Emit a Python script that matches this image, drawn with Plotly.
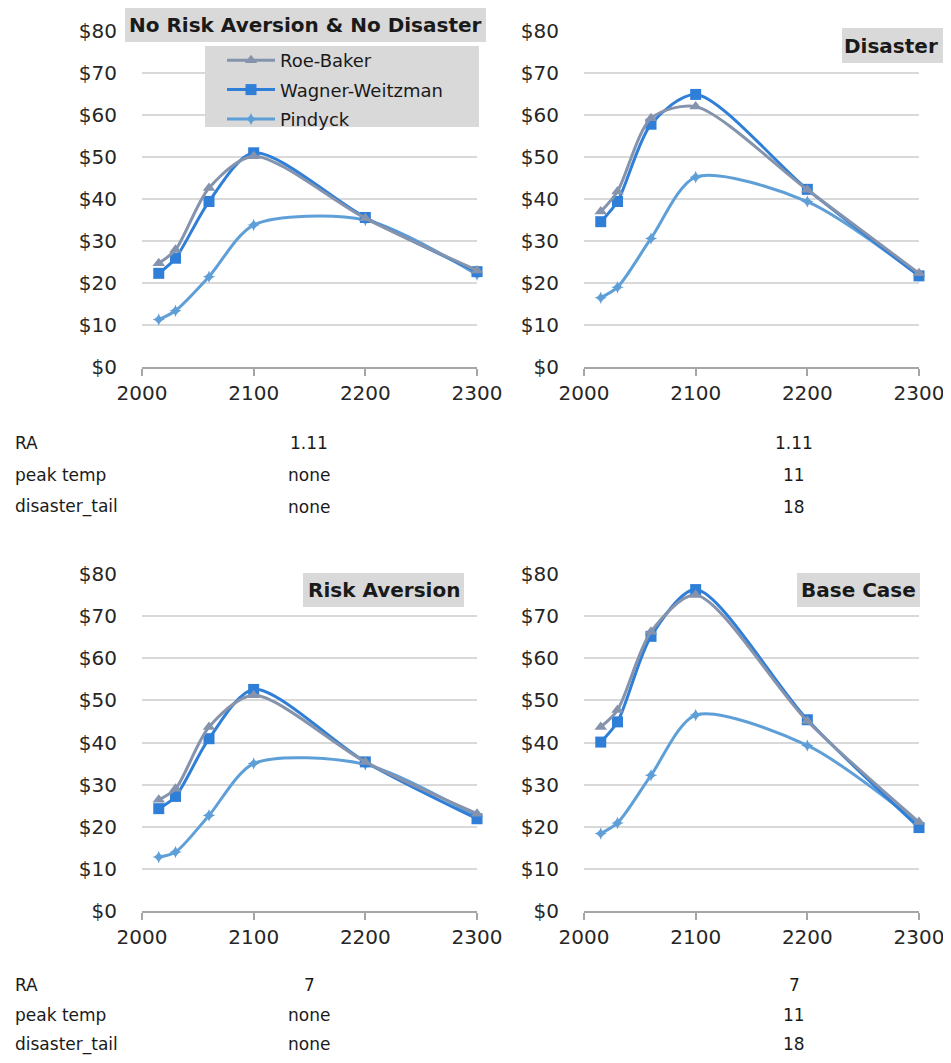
import plotly.graph_objects as go

# page is 951x1063; the figure sits 8px in from the top-left (default body margin)
OFF = 8
W, H = 951 - OFF, 1063 - 2 * OFF

years = [2015, 2030, 2060, 2100, 2200, 2300]
series_names = ["Roe-Baker", "Wagner-Weitzman", "Pindyck"]

# panel values
p1_rb = [24.7, 27.9, 42.6, 50.2, 35.4, 23.0]
p1_ww = [22.3, 25.9, 39.4, 51.0, 35.6, 22.7]
p1_pd = [11.3, 13.4, 21.5, 33.8, 35.0, 22.0]

p2_rb = [37.0, 41.8, 59.2, 62.0, 42.2, 22.3]
p2_ww = [34.6, 39.4, 57.8, 64.9, 42.3, 21.7]
p2_pd = [16.5, 19.0, 30.6, 45.2, 39.4, 21.7]

p3_rb = [26.4, 29.0, 43.7, 51.2, 35.4, 23.1]
p3_ww = [24.3, 27.2, 40.9, 52.6, 35.4, 21.9]
p3_pd = [12.8, 14.0, 22.7, 35.0, 34.8, 22.3]

p4_rb = [43.7, 47.7, 66.3, 75.0, 45.1, 21.1]
p4_ww = [40.1, 44.9, 65.2, 76.3, 45.4, 19.8]
p4_pd = [18.4, 20.9, 32.2, 46.5, 39.3, 20.7]

panel_titles = ["No Risk Aversion & No Disaster", "Disaster", "Risk Aversion", "Base Case"]

table_labels = ["RA", "peak temp", "disaster_tail"]
table_top_left = ["1.11", "none", "none"]
table_top_right = ["1.11", "11", "18"]
table_bot_left = ["7", "none", "none"]
table_bot_right = ["7", "11", "18"]

y_ticks = [0, 10, 20, 30, 40, 50, 60, 70, 80]
y_ticktext = ["$0", "$10", "$20", "$30", "$40", "$50", "$60", "$70", "$80"]
x_ticks = [2000, 2100, 2200, 2300]

colors = {"Roe-Baker": "#8593ad", "Wagner-Weitzman": "#2f7fd8", "Pindyck": "#5f9fd8"}
symbols = {"Roe-Baker": "triangle-up", "Wagner-Weitzman": "square", "Pindyck": "star-diamond"}
msizes = {"Roe-Baker": 11, "Wagner-Weitzman": 11, "Pindyck": 9}
ranks = {"Roe-Baker": 1, "Wagner-Weitzman": 2, "Pindyck": 3}

panels = [
    {"Roe-Baker": p1_rb, "Wagner-Weitzman": p1_ww, "Pindyck": p1_pd},
    {"Roe-Baker": p2_rb, "Wagner-Weitzman": p2_ww, "Pindyck": p2_pd},
    {"Roe-Baker": p3_rb, "Wagner-Weitzman": p3_ww, "Pindyck": p3_pd},
    {"Roe-Baker": p4_rb, "Wagner-Weitzman": p4_ww, "Pindyck": p4_pd},
]

# page-pixel layout of plot areas: (x0, x1, y_top, y_bottom)
areas = [(142, 477, 31, 367), (584, 919, 31, 367), (142, 477, 574, 911), (584, 919, 574, 911)]

def px(x):
    return (x - OFF) / W

def py(y):
    return 1 - (y - OFF) / H

FONT = "DejaVu Sans"
TXT = "#262626"

fig = go.Figure()
layout = {}
for i, (data, area) in enumerate(zip(panels, areas)):
    sfx = "" if i == 0 else str(i + 1)
    xa, ya = "x" + sfx, "y" + sfx
    for name in ["Pindyck", "Wagner-Weitzman", "Roe-Baker"]:
        fig.add_trace(go.Scatter(
            x=years, y=data[name], name=name, xaxis=xa, yaxis=ya,
            mode="lines+markers", line=dict(color=colors[name], width=3, shape="spline", smoothing=0.8),
            marker=dict(symbol=symbols[name], size=msizes[name], color=colors[name]),
            showlegend=(i == 0), legendrank=ranks[name], legendgroup=name, cliponaxis=False,
        ))
    x0, x1, yt, yb = area
    layout["xaxis" + sfx] = dict(
        domain=[px(x0), px(x1)], anchor=ya, range=[2000, 2300], tickvals=x_ticks,
        showgrid=False, zeroline=False, showline=True, linecolor="#a6a6a6", linewidth=1.5,
        ticks="outside", ticklen=7, tickcolor="#a6a6a6", tickwidth=1.5, automargin=False,
        tickfont=dict(family=FONT, size=20, color=TXT), ticklabelstandoff=0,
    )
    layout["yaxis" + sfx] = dict(
        domain=[py(yb), py(yt)], anchor=xa, range=[0, 80], tickvals=y_ticks, ticktext=y_ticktext,
        showgrid=True, gridcolor="#d9d9d9", gridwidth=1.5, zeroline=False, showline=False,
        ticks="", tickfont=dict(family=FONT, size=20, color=TXT), ticklabelstandoff=24, automargin=False,
    )

shapes = []
annotations = []

# title boxes (page pixel rects) and text centers
title_boxes = [(125, 486, 8, 42), (842, 951, 28, 63), (303, 464, 573, 607), (797, 920, 573, 607)]
title_cx = [305.5, 891, 383.5, 858.5]
for t, (bx0, bx1, by0, by1), cx in zip(panel_titles, title_boxes, title_cx):
    shapes.append(dict(type="rect", xref="paper", yref="paper", x0=px(bx0), x1=px(bx1),
                       y0=py(by1), y1=py(by0), fillcolor="#d9d9d9", line=dict(width=0), layer="above"))
    annotations.append(dict(xref="paper", yref="paper", x=px(cx), y=py((by0 + by1) / 2),
                            text="<b>" + t + "</b>", showarrow=False, xanchor="center", yanchor="middle",
                            font=dict(family=FONT, size=20, color="#1a1a1a")))

# legend background box
shapes.append(dict(type="rect", xref="paper", yref="paper", x0=px(205), x1=px(479),
                   y0=py(127), y1=py(46), fillcolor="#d9d9d9", line=dict(width=0), layer="above"))

# table text
rows_top = [443, 475, 507]
rows_bot = [985, 1015, 1044]
TF = dict(family=FONT, size=17, color="#1a1a1a")
for rows, left, right in [(rows_top, table_top_left, table_top_right), (rows_bot, table_bot_left, table_bot_right)]:
    for yy, lab, lv, rv in zip(rows, table_labels, left, right):
        annotations.append(dict(xref="paper", yref="paper", x=px(13), y=py(yy), text=lab, showarrow=False,
                                xanchor="left", yanchor="middle", font=TF))
        annotations.append(dict(xref="paper", yref="paper", x=px(309), y=py(yy), text=lv, showarrow=False,
                                xanchor="center", yanchor="middle", font=TF))
        annotations.append(dict(xref="paper", yref="paper", x=px(794), y=py(yy), text=rv, showarrow=False,
                                xanchor="center", yanchor="middle", font=TF))

fig.update_layout(
    width=W, height=H, margin=dict(l=0, r=0, t=0, b=0, autoexpand=False),
    paper_bgcolor="white", plot_bgcolor="white",
    shapes=shapes, annotations=annotations,
    legend=dict(x=px(222), y=py(42), xanchor="left", yanchor="top", bgcolor="rgba(0,0,0,0)",
                font=dict(family=FONT, size=18, color="#1a1a1a"), itemwidth=48,
                traceorder="grouped", tracegroupgap=3),
    **layout,
)

fig.write_html("out.html")
